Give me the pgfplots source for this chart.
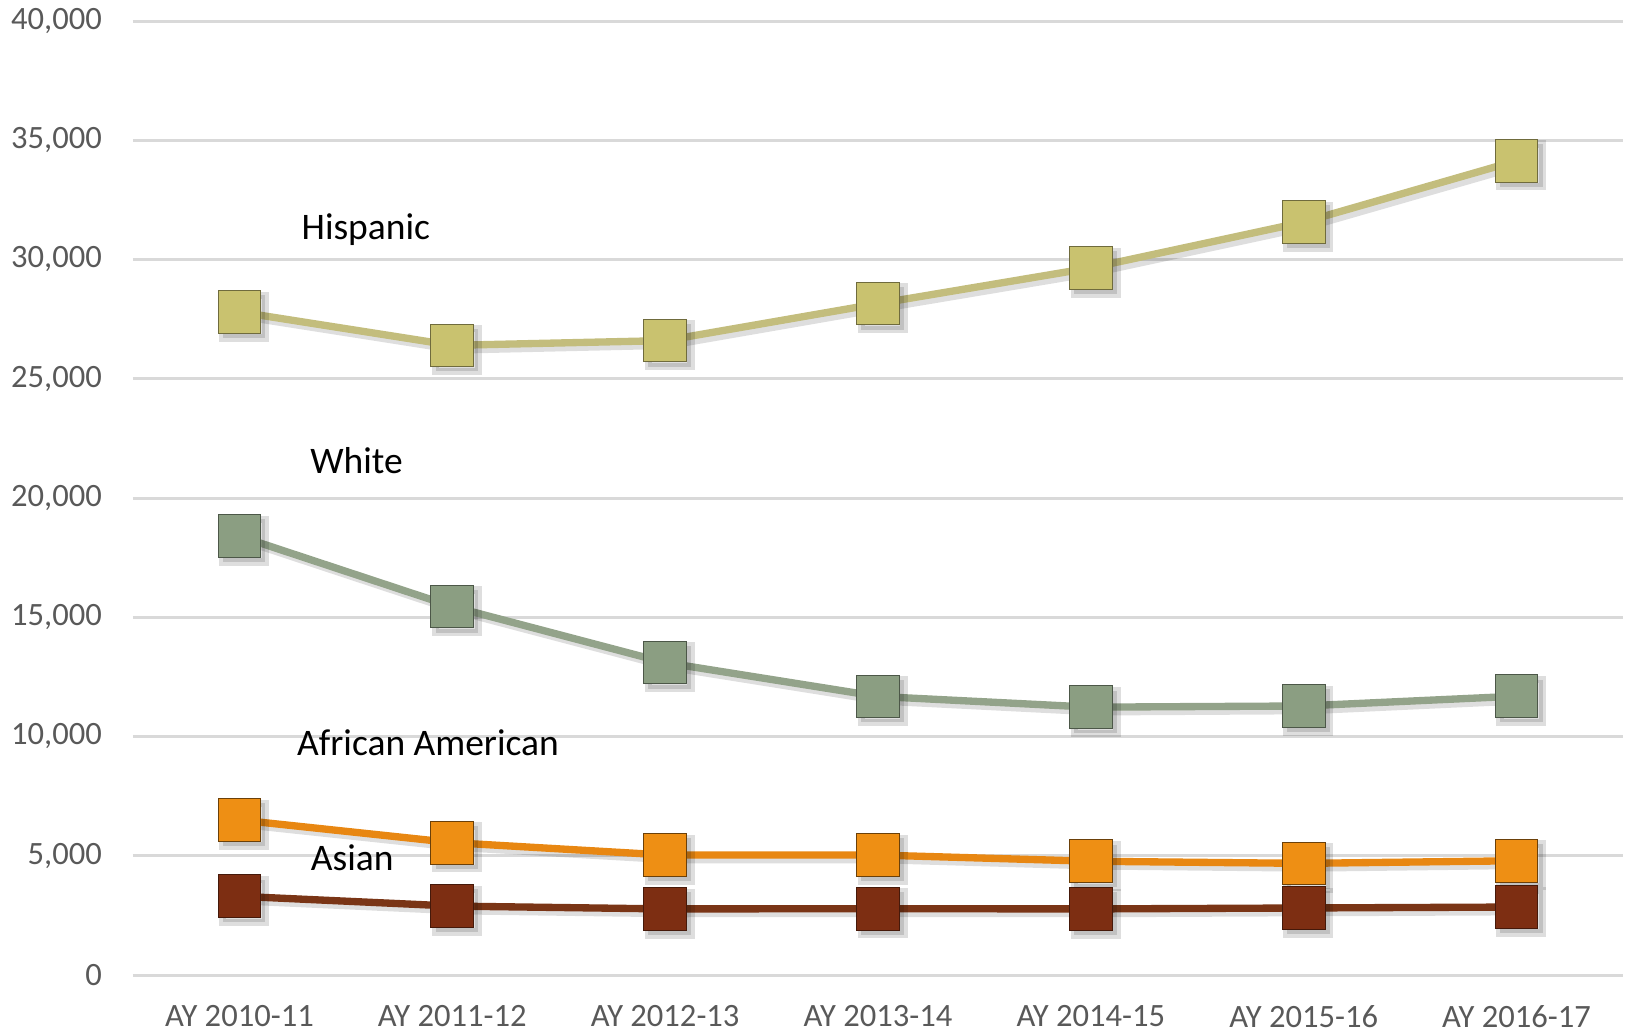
\documentclass[border=0pt]{standalone}
\usepackage{pgfplots}
\pgfplotsset{compat=1.18}
\usepackage{fontspec}
\setmainfont{Carlito}

\definecolor{hisLine}{HTML}{C3BD7D}
\definecolor{hisFill}{HTML}{C9C26F}
\definecolor{whLine}{HTML}{93A38A}
\definecolor{whFill}{HTML}{8B9E82}
\definecolor{aaLine}{HTML}{E88712}
\definecolor{aaFill}{HTML}{EE8F14}
\definecolor{asLine}{HTML}{7A3516}
\definecolor{asFill}{HTML}{7D2E12}
\definecolor{tickgray}{HTML}{595959}
\definecolor{gridgray}{HTML}{D9D9D9}

% 1 px of the reference = 0.15mm
\pgfplotsset{
  series/.style={line width=1.1mm, mark=square*, mark size=3.2mm},
  shadow/.style={black, opacity=0.13, line width=1.1mm, mark=square*,
    mark size=3.2mm, xshift=0.7mm, yshift=-0.7mm, forget plot},
}

\begin{document}
\begin{tikzpicture}
\begin{axis}[
  at={(0,0)}, anchor=south west,
  scale only axis, width=223.5mm, height=143.1mm,
  xmin=-0.5, xmax=6.5, ymin=0, ymax=40000,
  axis line style={draw=none},
  xtick={0,...,6},
  xticklabels={AY 2010-11,AY 2011-12,AY 2012-13,AY 2013-14,AY 2014-15,AY 2015-16,AY 2016-17},
  ytick={0,5000,...,40000},
  scaled y ticks=false,
  /pgf/number format/assume math mode=true,
  /pgf/number format/1000 sep={,},
  tick label style={font=\fontsize{13.9}{15}\selectfont, text=tickgray, inner sep=0pt},
  yticklabel style={anchor=east, xshift=-4.6mm},
  xticklabel style={anchor=north, yshift=-4.5mm},
  major tick length=0pt,
  ymajorgrids, grid style={gridgray, line width=0.45mm},
  clip=false,
]
  % shadows
  \addplot[shadow] coordinates {(0,27800) (1,26400) (2,26600) (3,28150) (4,29650) (5,31570) (6,34140)};
  \addplot[shadow] coordinates {(0,18400) (1,15450) (2,13100) (3,11680) (4,11230) (5,11280) (6,11690)};
  \addplot[shadow] coordinates {(0,6500) (1,5550) (2,5030) (3,5030) (4,4770) (5,4680) (6,4790)};
  \addplot[shadow] coordinates {(0,3300) (1,2890) (2,2770) (3,2780) (4,2770) (5,2810) (6,2850)};

  % Hispanic
  \addplot[series, hisLine, mark options={line width=0.4pt, fill=hisFill, draw=hisFill!55!black}]
    coordinates {(0,27800) (1,26400) (2,26600) (3,28150) (4,29650) (5,31570) (6,34140)};
  % White
  \addplot[series, whLine, mark options={line width=0.4pt, fill=whFill, draw=whFill!55!black}]
    coordinates {(0,18400) (1,15450) (2,13100) (3,11680) (4,11230) (5,11280) (6,11690)};
  % African American
  \addplot[series, aaLine, mark options={line width=0.4pt, fill=aaFill, draw=aaFill!45!black}]
    coordinates {(0,6500) (1,5550) (2,5030) (3,5030) (4,4770) (5,4680) (6,4790)};
  % Asian
  \addplot[series, asLine, mark options={line width=0.4pt, fill=asFill, draw=asFill!55!black}]
    coordinates {(0,3300) (1,2890) (2,2770) (3,2780) (4,2770) (5,2810) (6,2850)};

  \node[font=\fontsize{16}{18}\selectfont] at (axis cs:0.594,31270) {Hispanic};
  \node[font=\fontsize{16}{18}\selectfont] at (axis cs:0.55,21570) {White};
  \node[font=\fontsize{16}{18}\selectfont] at (axis cs:0.886,9740) {African American};
  \node[font=\fontsize{16}{18}\selectfont] at (axis cs:0.53,4920) {Asian};
\end{axis}
\pgfresetboundingbox
\path[use as bounding box] (-19.95mm,-9mm) rectangle (223.95mm,146.25mm);
\end{tikzpicture}
\end{document}
